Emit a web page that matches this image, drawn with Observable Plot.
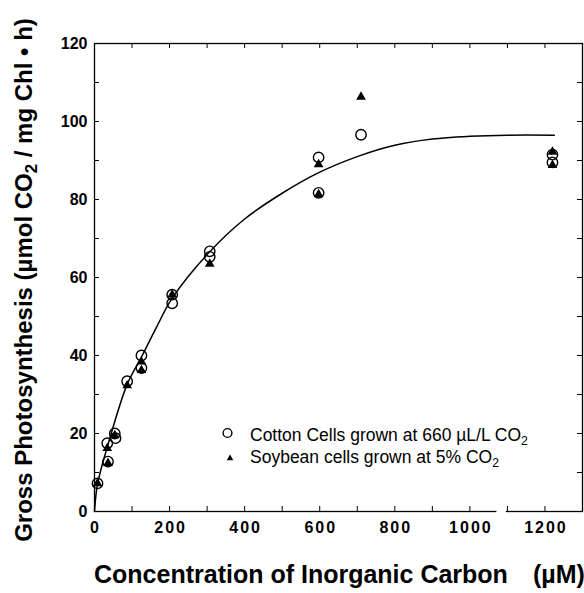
<!DOCTYPE html>
<html>
<head>
<meta charset="utf-8">
<script src="https://cdn.jsdelivr.net/npm/d3@7"></script>
<script src="https://cdn.jsdelivr.net/npm/@observablehq/plot@0.6"></script>
<style>
  html, body { margin: 0; padding: 0; background: white; }
  #wrap { position: relative; width: 584px; height: 593px; font-family: "Liberation Sans", Arial, sans-serif; color: black; }
  #wrap svg { position: absolute; left: 0; top: 0; }
  #wrap svg [aria-label="x-axis tick label"] text { letter-spacing: 2px; }
  .ylab { position: absolute; width: 640px; left: -296px; top: 268px; height: 24px; line-height: 24px;
          text-align: center; transform: rotate(-90deg); font-weight: bold; font-size: 24px; white-space: nowrap; }
  .xlab { position: absolute; top: 562px; height: 25px; line-height: 25px; font-weight: bold; font-size: 25px; white-space: nowrap; }
  .legend { position: absolute; left: 220px; top: 424px; font-family: "Liberation Sans", Arial, sans-serif; font-size: 17.5px; line-height: 22px; }
  .legend .row { position: relative; height: 22px; white-space: nowrap; }
  .legend .sym { position: absolute; left: 0; top: 0; width: 16px; }
  .legend .txt { position: absolute; left: 30px; top: 0; }
  sub { font-size: 0.7em; vertical-align: -0.3em; line-height: 0; }
</style>
</head>
<body>
<div id="wrap">
  <div class="ylab">Gross Photosynthesis (µmol CO<sub>2</sub> / mg Chl • h)</div>
  <div class="xlab" style="left:94px">Concentration of Inorganic Carbon</div>
  <div class="xlab" style="left:533px">(µM)</div>
  <div class="legend">
    <div class="row"><span class="sym"><svg width="16" height="22"><circle cx="7.5" cy="9" r="4.4" fill="none" stroke="black" stroke-width="1.4"/></svg></span><span class="txt">Cotton Cells grown at 660 µL/L CO<sub>2</sub></span></div>
    <div class="row"><span class="sym"><svg width="16" height="22"><path d="M10,8.5 L13.3,14.3 L6.7,14.3 Z" fill="black"/></svg></span><span class="txt">Soybean cells grown at 5% CO<sub>2</sub></span></div>
  </div>
</div>
<script>
// Cotton cells grown at 660 µL/L CO2 (open circles)
const cottonX = [8, 34, 36, 54, 56, 87, 125, 125, 207, 207, 307, 307, 597, 597, 710, 1220, 1220];
const cottonY = [7.2, 17.5, 12.8, 20.0, 18.8, 33.4, 40.0, 36.8, 55.6, 53.4, 66.7, 65.3, 90.8, 81.7, 96.6, 91.5, 89.5];
// Soybean cells grown at 5% CO2 (filled triangles)
const soyX = [8, 34, 36, 54, 87, 125, 125, 207, 307, 597, 597, 710, 1220, 1220];
const soyY = [7.2, 16.2, 12.4, 19.5, 32.3, 38.4, 36.2, 55.6, 63.5, 89.0, 81.3, 106.3, 92.2, 88.8];
// Fitted curve
const curveX = [0, 8, 35, 87, 125, 165, 207, 307, 400, 500, 600, 700, 800, 900, 1000, 1100, 1225];
const curveY = [0, 7, 16.8, 32.6, 39.6, 47.2, 54.7, 66.6, 75, 81.6, 87, 91, 93.9, 95.5, 96.2, 96.5, 96.5];
// Axis ticks
const xTickLabels = [0, 200, 400, 600, 800, 1000, 1200];
const xTickMarks = [100, 200, 300, 400, 500, 600, 700, 800, 900, 1000, 1100, 1200];
const yTickLabels = [0, 20, 40, 60, 80, 100, 120];
const yTickMarks = [10, 20, 30, 40, 50, 60, 70, 80, 90, 100, 110];
const axisBreak = [1072, 1097];

const cotton = cottonX.map((x, i) => ({x, y: cottonY[i]}));
const soy = soyX.map((x, i) => ({x, y: soyY[i]}));
const curve = curveX.map((x, i) => ({x, y: curveY[i]}));

const W = 584, H = 593, mL = 94, mR = 2, mT = 43, mB = 82;
const innerW = W - mL - mR, innerH = H - mT - mB, tk = 5;

const chart = Plot.plot({
  width: W, height: H,
  marginLeft: mL, marginRight: mR, marginTop: mT, marginBottom: mB,
  x: {domain: [0, 1300]},
  y: {domain: [0, 120]},
  style: {fontFamily: "'Liberation Sans', Arial, sans-serif", fontSize: "16px", fontWeight: "bold", background: "transparent", color: "black", overflow: "visible"},
  marks: [
    Plot.frame({stroke: "black", strokeWidth: 1.3}),
    Plot.ruleY([0], {x1: axisBreak[0], x2: axisBreak[1], stroke: "white", strokeWidth: 5}),
    // inward ticks
    Plot.tickX(xTickMarks, {x: d => d, insetTop: innerH - tk, stroke: "black"}),
    Plot.tickX(xTickMarks, {x: d => d, insetBottom: innerH - tk, stroke: "black"}),
    Plot.tickY(yTickMarks, {y: d => d, insetRight: innerW - tk, stroke: "black"}),
    Plot.tickY(yTickMarks, {y: d => d, insetLeft: innerW - tk, stroke: "black"}),
    Plot.axisX({ticks: xTickLabels, tickFormat: d3.format("d"), tickSize: 0, tickPadding: 10, label: null, fontWeight: "bold", dx: 1}),
    Plot.axisY({ticks: yTickLabels, tickFormat: d3.format("d"), tickSize: 0, tickPadding: 7, label: null, fontWeight: "bold"}),
    Plot.line(curve, {x: "x", y: "y", curve: "catmull-rom", stroke: "black", strokeWidth: 1.5}),
    Plot.dot(cotton, {x: "x", y: "y", r: 5.2, stroke: "black", strokeWidth: 1.4, fill: "none"}),
    Plot.dot(soy, {x: "x", y: "y", symbol: "triangle", r: 3.6, fill: "black", stroke: "none"})
  ]
});
document.getElementById("wrap").prepend(chart);
</script>
</body>
</html>
